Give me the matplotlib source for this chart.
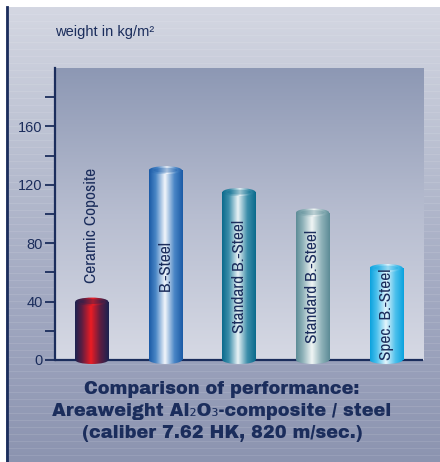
import numpy as np
import matplotlib
matplotlib.use("Agg")
import matplotlib.pyplot as plt
from matplotlib.colors import LinearSegmentedColormap
from matplotlib.patches import Ellipse, Rectangle

labels = ["Ceramic Coposite", "B.-Steel", "Standard B.-Steel",
          "Standard B.-Steel", "Spec. B.-Steel"]
values = [40, 130, 115, 101, 63]
yticks = [0, 40, 80, 120, 160]
minor_yticks = [20, 60, 100, 140, 180]

# edge colour, mid tone and highlight for each cylinder
edge_colors = ["#1a2250", "#1a5aa6", "#0a6a8c", "#5c8b96", "#0aa2de"]
mid_colors = ["#5c1e42", "#4a86c6", "#3c8eaa", "#8fb2b9", "#4cc0ec"]
light_colors = ["#ec1c24", "#f2f6fb", "#eaf3f6", "#f0f5f5", "#e4f5fc"]

NAVY = "#1b2d5c"
NARROW = ["Archivo Narrow", "DejaVu Sans"]
PLAIN = ["Liberation Sans", "DejaVu Sans"]
HEAVY = ["Archivo Black", "DejaVu Sans"]
W, H = 440, 462

fig = plt.figure(figsize=(W / 100, H / 100), dpi=100)
fig.patch.set_facecolor("white")

# background panel in pixel coordinates
bg = fig.add_axes([0, 0, 1, 1])
bg.set_xlim(0, W)
bg.set_ylim(H, 0)
bg.axis("off")
panel_cmap = LinearSegmentedColormap.from_list(
    "panel", ["#d4d7e2", "#b8bed0", "#a0a7c0", "#8c94b0"])
grad = np.linspace(0, 1, 256).reshape(-1, 1)
bg.imshow(grad, cmap=panel_cmap, extent=[6, W, H, 7], aspect="auto")
for yy in np.arange(14, H, 7):
    bg.plot([6, W], [yy, yy], color="white", lw=0.6, alpha=0.12)
bg.plot([7, 7], [7, H], color=NAVY, lw=2)

# chart area
ymin, ymax = -6, 200
px_per_unit = 58.3 / 40
bottom_px = 360 + (0 - ymin) * px_per_unit
top_px = 68
ax = fig.add_axes([55 / W, (H - bottom_px) / H, 368 / W,
                   (bottom_px - top_px) / H])
ax.set_xlim(-0.5, 4.5)
ax.set_ylim(ymin, ymax)
ax.patch.set_visible(False)

area_cmap = LinearSegmentedColormap.from_list(
    "area", ["#d6d9e4", "#b7bdd0", "#8d98b4"])
ax.imshow(grad, cmap=area_cmap, extent=[-0.5, 4.5, 0, ymax],
          aspect="auto", origin="lower", zorder=0)

for side in ["top", "right", "bottom"]:
    ax.spines[side].set_visible(False)
ax.spines["left"].set_bounds(0, ymax)
ax.spines["left"].set_color(NAVY)
ax.spines["left"].set_linewidth(1.6)
ax.axhline(0, color=NAVY, lw=1.6, zorder=1)

ax.set_yticks(yticks)
ax.set_yticks(minor_yticks, minor=True)
ax.tick_params(axis="y", which="both", length=7, width=1.3, color=NAVY,
               labelcolor=NAVY, labelsize=10.5, pad=2)
for t in ax.get_yticklabels():
    t.set_family(PLAIN)
ax.set_xticks([])

x = np.arange(len(values))
bar_w = 0.45
cap_h = 8 / px_per_unit
bars = ax.bar(x, values, width=bar_w, color="none", zorder=2)

hgrad = np.linspace(0, 1, 256).reshape(1, -1)
for i, b in enumerate(bars):
    cmap = LinearSegmentedColormap.from_list(
        "cyl%d" % i,
        [(0, edge_colors[i]), (0.2, mid_colors[i]), (0.47, light_colors[i]),
         (0.75, mid_colors[i]), (1, edge_colors[i])])
    x0, w, h = b.get_x(), b.get_width(), b.get_height()
    xc = x0 + w / 2
    # body
    body = ax.imshow(hgrad, cmap=cmap, extent=[x0, x0 + w, 0, h],
                     aspect="auto", zorder=3)
    body.set_clip_path(Rectangle((x0, 0), w, h, transform=ax.transData))
    # rounded bottom below the base line
    bot = ax.imshow(hgrad, cmap=cmap, extent=[x0, x0 + w, -cap_h / 2, 0],
                    aspect="auto", zorder=3)
    bot.set_clip_path(Ellipse((xc, 0), w, cap_h, transform=ax.transData))
    # open top
    top = ax.imshow(hgrad[:, ::-1], cmap=cmap,
                    extent=[x0, x0 + w, h - cap_h / 2, h + cap_h / 2],
                    aspect="auto", zorder=4)
    top.set_clip_path(Ellipse((xc, h), w, cap_h, transform=ax.transData))
    ax.add_patch(Ellipse((xc, h), w * 0.72, cap_h * 0.62,
                         facecolor=edge_colors[i], alpha=0.35,
                         edgecolor="none", zorder=5))

    if h > 60:
        ax.text(xc, h / 2, labels[i], rotation=90, ha="center", va="center",
                color=NAVY, fontsize=12.5, family=NARROW, zorder=6)
    else:
        ax.text(xc, h + 13, labels[i], rotation=90, ha="center",
                va="bottom", color=NAVY, fontsize=12.5, family=NARROW,
                zorder=6)

bg.text(55, 32, "weight in kg/m²", color=NAVY, fontsize=10.5,
        family=PLAIN, va="center")

title_lines = ["Comparison of performance:",
               "Areaweight Al₂O₃-composite / steel",
               "(caliber 7.62 HK, 820 m/sec.)"]
for k, line in enumerate(title_lines):
    bg.text(222, 390 + 22 * k, line, color=NAVY, fontsize=12.8,
            family=HEAVY, ha="center", va="center")

fig.savefig("out.png", dpi=100)
